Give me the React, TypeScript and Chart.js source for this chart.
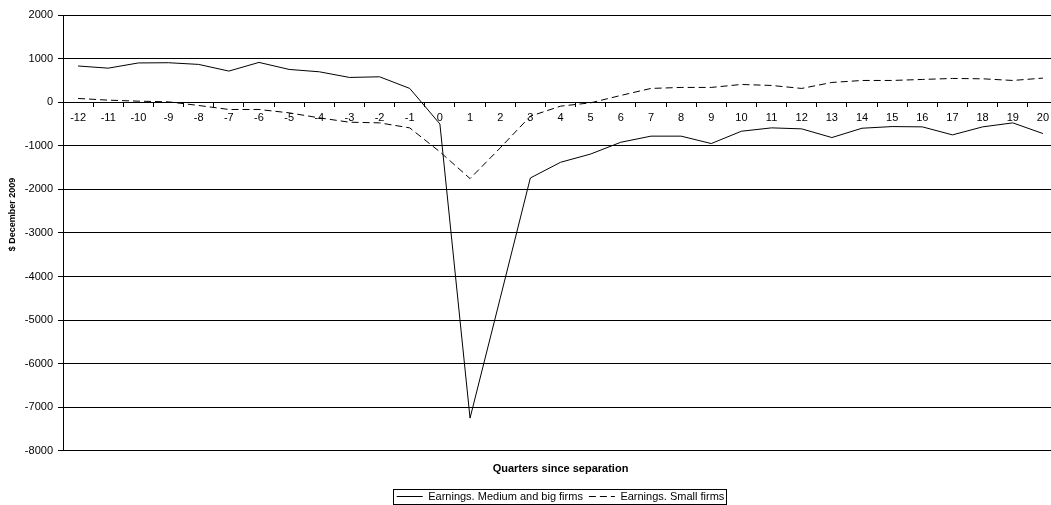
import React, { useEffect, useRef } from "react";
import { Chart, registerables } from "chart.js";

Chart.register(...registerables);

// ---- Data ----
const quarters = [
  "-12", "-11", "-10", "-9", "-8", "-7", "-6", "-5", "-4", "-3", "-2", "-1",
  "0", "1", "2", "3", "4", "5", "6", "7", "8", "9", "10",
  "11", "12", "13", "14", "15", "16", "17", "18", "19", "20",
];

const mediumBigFirms = [
  830, 780, 900, 905, 866, 713, 912, 751, 697, 567, 582, 315,
  -500, -7250, -4500, -1740, -1380, -1190, -920, -780, -780, -950, -667,
  -590, -613, -812, -598, -560, -567, -751, -567, -475, -720,
];

const smallFirms = [
  85, 46, 23, 7, -76, -168, -168, -245, -360, -460, -475, -590,
  -1140, -1754, -1050, -322, -92, -15, 154, 315, 338, 338, 406,
  383, 315, 452, 498, 498, 521, 544, 536, 498, 552,
];

const seriesNames = ["Earnings. Medium and big firms", "Earnings. Small firms"];
const seriesDashes = [[], [7, 4]];
const yTicksMin = -8000;
const yTicksMax = 2000;
const yTicksStep = 1000;
const xAxisTitle = "Quarters since separation";
const yAxisTitle = "$ December 2009";

const FONT = "'Liberation Sans', Arial, Helvetica, sans-serif";
const CANVAS_W = 1121;
const CANVAS_H = 512;

const yTitlePlugin = {
  id: "yTitleCustom",
  afterDraw(chart: any) {
    const { ctx, chartArea } = chart;
    const cy = chartArea.top + (chartArea.bottom - chartArea.top) * 0.458;
    ctx.save();
    ctx.font = `bold 9px ${FONT}`;
    ctx.fillStyle = "#000";
    ctx.textAlign = "center";
    ctx.textBaseline = "middle";
    ctx.translate(13, cy);
    ctx.rotate(-Math.PI / 2);
    ctx.fillText(yAxisTitle, 0, 0);
    ctx.restore();
  },
};

const legendBorderPlugin = {
  id: "legendBorder",
  afterDraw(chart: any) {
    const lg = chart.legend;
    if (!lg || !lg.legendHitBoxes || !lg.legendHitBoxes.length) return;
    const hb = lg.legendHitBoxes;
    const left = Math.min(...hb.map((h: any) => h.left));
    const right = Math.max(...hb.map((h: any) => h.left + h.width));
    const top = Math.min(...hb.map((h: any) => h.top));
    const bottom = Math.max(...hb.map((h: any) => h.top + h.height));
    const { ctx } = chart;
    ctx.save();
    ctx.strokeStyle = "#000";
    ctx.lineWidth = 1;
    ctx.setLineDash([]);
    const x0 = Math.round(left - 4) + 0.5;
    const y0 = Math.round(top - 2) + 0.5;
    const x1 = Math.round(right + 2) + 0.5;
    const y1 = Math.round(bottom + 2) + 0.5;
    ctx.strokeRect(x0, y0, x1 - x0, y1 - y0);
    ctx.restore();
  },
};

export default function App() {
  const canvasRef = useRef<HTMLCanvasElement | null>(null);

  useEffect(() => {
    if (!canvasRef.current) return;
    const chart = new Chart(canvasRef.current, {
      type: "line",
      data: {
        labels: quarters,
        datasets: [
          {
            label: seriesNames[0],
            data: mediumBigFirms,
            borderColor: "#000",
            backgroundColor: "#000",
            borderWidth: 1,
            borderDash: seriesDashes[0],
            pointRadius: 0,
            tension: 0,
            fill: false,
          },
          {
            label: seriesNames[1],
            data: smallFirms,
            borderColor: "#000",
            backgroundColor: "#000",
            borderWidth: 1,
            borderDash: seriesDashes[1],
            pointRadius: 0,
            tension: 0,
            fill: false,
          },
        ],
      },
      options: {
        responsive: false,
        animation: false,
        devicePixelRatio: 1,
        layout: { padding: { top: 15, left: 0, right: 0, bottom: 0 } },
        plugins: {
          title: { display: false },
          tooltip: { enabled: false },
          legend: {
            display: true,
            position: "bottom",
            labels: {
              color: "#000",
              font: { family: FONT, size: 11 },
              usePointStyle: true,
              pointStyle: "line",
              pointStyleWidth: 26,
              padding: 6,
              generateLabels: (c: any) =>
                (Chart.defaults.plugins.legend.labels as any)
                  .generateLabels(c)
                  .map((l: any) => ({
                    ...l,
                    lineDash: seriesDashes[l.datasetIndex] || [],
                    lineWidth: 1,
                    strokeStyle: "#000",
                    fillStyle: "#000",
                    pointStyle: "line",
                  })),
            },
          },
        },
        scales: {
          x: {
            type: "category",
            axis: "x",
            position: { y: 0 } as any,
            offset: true,
            grid: {
              offset: true,
              drawOnChartArea: false,
              drawTicks: true,
              tickLength: 4,
              color: "#000",
            },
            border: { display: true, color: "#000", width: 1 },
            ticks: {
              color: "#000",
              font: { family: FONT, size: 11 },
              padding: 5,
              maxRotation: 0,
              autoSkip: false,
            },
          },
          x2: {
            type: "category",
            axis: "x",
            position: "bottom",
            grid: { display: false, drawTicks: false },
            border: { display: false },
            ticks: { display: false },
            title: {
              display: true,
              text: xAxisTitle,
              color: "#000",
              font: { family: FONT, size: 11, weight: "bold" },
              padding: { top: 12, bottom: 9 },
            },
          },
          y: {
            type: "linear",
            axis: "y",
            position: "left",
            min: yTicksMin,
            max: yTicksMax,
            grid: {
              color: "#000",
              lineWidth: 1,
              drawTicks: true,
              tickLength: 5,
            },
            border: { display: true, color: "#000", width: 1 },
            ticks: {
              stepSize: yTicksStep,
              color: "#000",
              font: { family: FONT, size: 11 },
              padding: 5,
              callback: (v: any) => String(v),
            },
            afterFit: (s: any) => {
              s.width = 63;
            },
          },
          yr: {
            type: "linear",
            axis: "y",
            position: "right",
            grid: { display: false, drawTicks: false },
            border: { display: false },
            ticks: { display: false },
            afterFit: (s: any) => {
              s.width = 63;
            },
          },
        },
      },
      plugins: [yTitlePlugin, legendBorderPlugin],
    } as any);
    return () => chart.destroy();
  }, []);

  return (
    <div
      style={{
        position: "fixed",
        left: 0,
        top: 0,
        width: 1051,
        height: 505,
        overflow: "hidden",
        background: "#fff",
      }}
    >
      <canvas
        ref={canvasRef}
        width={CANVAS_W}
        height={CANVAS_H}
        style={{ width: CANVAS_W, height: CANVAS_H, display: "block" }}
      />
    </div>
  );
}
